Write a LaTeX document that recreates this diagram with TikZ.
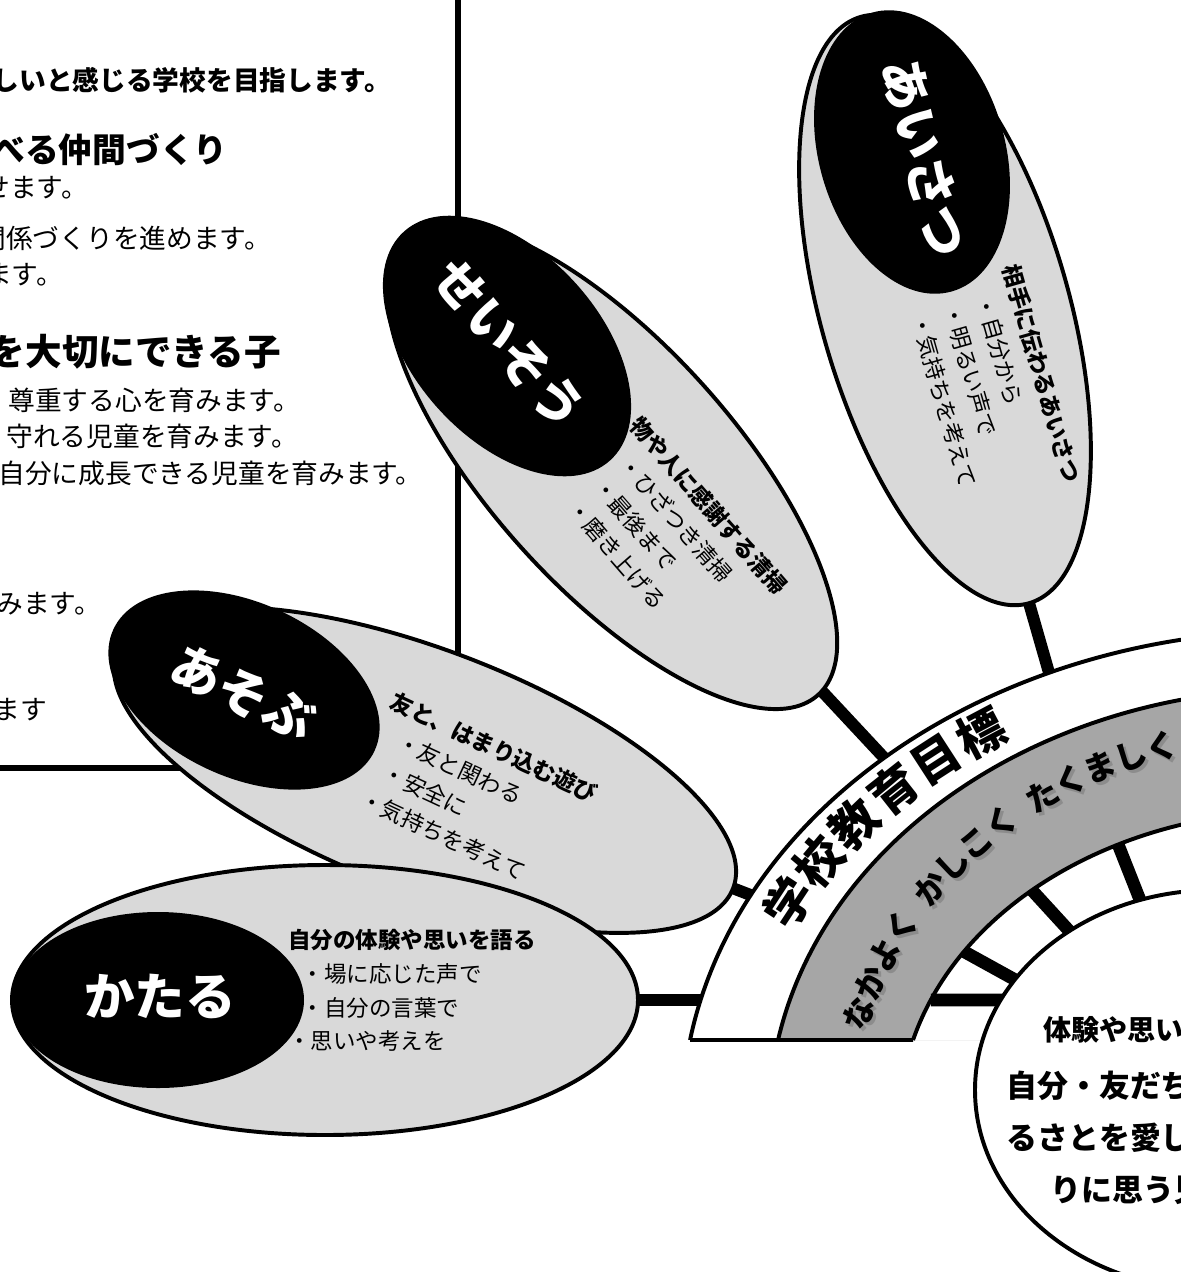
\documentclass[tikz,border=0pt]{standalone}
\usepackage{fontspec}
\setmainfont{Noto Sans CJK JP}
\usetikzlibrary{decorations.text}
\definecolor{bubblegray}{HTML}{D9D9D9}
\definecolor{bandgray}{HTML}{A6A6A6}
\begin{document}
\begin{tikzpicture}[x=0.025cm,y=-0.025cm]
\tikzset{frame/.style={line width=4.3pt},
         bubble/.style={draw,line width=2.8pt,fill=bubblegray},
         blob/.style={fill=black},
         link/.style={line width=8.5pt},
         ring/.style={line width=2.8pt},
         spoke/.style={line width=9pt},
         title/.style={text=white,inner sep=0pt,
                       font=\fontsize{36}{36}\selectfont\bfseries},
         memo/.style={align=left,inner sep=0pt,anchor=north west,
                      font=\fontsize{16}{24}\selectfont},
         body/.style={anchor=east,inner sep=0pt,
                      font=\fontsize{19}{20}\selectfont},
         head/.style={anchor=east,inner sep=0pt,
                      font=\fontsize{24}{26}\selectfont\bfseries},
         creed/.style={anchor=west,inner sep=0pt,
                       font=\fontsize{22}{24}\selectfont\bfseries},
         motto/.style={decorate,decoration={text along path,text align=center,raise=-8.5pt,
                       text={|\fontsize{23}{23}\selectfont\bfseries|#1}}},
         shade/.style={decorate,decoration={text along path,text align=center,raise=-8.5pt,
                       text={|\fontsize{23}{23}\selectfont\bfseries\color{black!45}|#1}}}
}
\fill[white] (0,0) rectangle (1180,1272);
\useasboundingbox (0,0) rectangle (1180,1272);
\draw[frame] (458,-20) -- (458,768) -- (-20,768);
\node[body,font=\fontsize{19}{20}\selectfont\bfseries] (aim) at (391,80) {しいと感じる学校を目指します。};
\node[head] (head-1) at (228,150) {べる仲間づくり};
\node[body] (line-1) at (88,188) {せます。};
\node[body] (line-2) at (271,238) {関係づくりを進めます。};
\node[body] (line-3) at (63,275) {ます。};
\node[head,font=\fontsize{26}{28}\selectfont\bfseries] (head-2) at (281,352) {を大切にできる子};
\node[body] (line-4) at (300,400) {尊重する心を育みます。};
\node[body] (line-5) at (298,436) {守れる児童を育みます。};
\node[body] (line-6) at (423,473) {自分に成長できる児童を育みます。};
\node[body] (line-7) at (101,604) {みます。};
\node[body] (line-8) at (47,710) {ます};
\coordinate (hub) at (1300,1120);
\coordinate (hub-shade) at (1303,1123);
\coordinate (core) at (1215,1090);
\coordinate (spoke-end) at (1020,1000);
\coordinate (aisatsu) at (945,310);
\coordinate (seisou) at (612,466);
\coordinate (asobu) at (425,770);
\coordinate (kataru) at (325,1000);
\coordinate (aisatsu-foot) at ([shift={(74:420)}]aisatsu);
\coordinate (seisou-foot) at ([shift={(47:450)}]seisou);
\coordinate (asobu-foot) at ([shift={(21:400)}]asobu);
\coordinate (kataru-foot) at ([shift={(0:420)}]kataru);
\draw[link] (aisatsu) -- (aisatsu-foot);
\draw[link] (seisou) -- (seisou-foot);
\draw[link] (asobu) -- (asobu-foot);
\draw[link] (kataru) -- (kataru-foot);
\draw[bubble] (aisatsu) ellipse[x radius=305,y radius=124,rotate=-74];
\fill[blob] (912,152) ellipse[x radius=145,y radius=93,rotate=-74];
\node[title,rotate=-76] (aisatsu-title) at (925,158) {あいさつ};
\node[memo,rotate=-74] (aisatsu-memo) at (1021,262) {\textbf{相手に伝わるあいさつ}\\\hspace*{1em}・自分から\\\hspace*{1em}・明るい声で\\\hspace*{1em}・気持ちを考えて};
\draw[bubble] (seisou) ellipse[x radius=308,y radius=122,rotate=-48];
\fill[blob] (507,346) ellipse[x radius=154,y radius=93,rotate=-48];
\node[title,rotate=-50] (seisou-title) at (509,344) {せいそう};
\node[memo,rotate=-49] (seisou-memo) at (643,413) {\textbf{物や人に感謝する清掃}\\\hspace*{1em}・ひざつき清掃\\\hspace*{1em}・最後まで\\\hspace*{1em}・磨き上げる};
\draw[bubble] (asobu) ellipse[x radius=330,y radius=120,rotate=-21];
\fill[blob] (244,690) ellipse[x radius=144,y radius=87,rotate=-25];
\node[title,rotate=-25] (asobu-title) at (243,693) {あそぶ};
\node[memo,rotate=-25] (asobu-memo) at (397,690) {\textbf{友と、はまり込む遊び}\\\hspace*{1em}・友と関わる\\\hspace*{1em}・安全に\\\hspace*{0.6em}・気持ちを考えて};
\draw[bubble] (kataru) ellipse[x radius=313,y radius=135];
\fill[blob] (158,1000) ellipse[x radius=146,y radius=88];
\node[title] (kataru-title) at (160,996) {かたる};
\node[memo] (kataru-memo) at (288,929) {\textbf{自分の体験や思いを語る}\\\hspace*{0.6em}・場に応じた声で\\\hspace*{0.6em}・自分の言葉で\\・思いや考えを};
\fill[white] ([shift={(189.41:618.3 and 489.3)}]hub) arc[start angle=189.41,end angle=350.59,x radius=618.3,y radius=489.3] -- cycle;
\fill[bandgray] ([shift={(190.69:531.2 and 431.1)}]hub) arc[start angle=190.69,end angle=349.31,x radius=531.2,y radius=431.1] -- cycle;
\fill[white] ([shift={(195:400.6 and 309.2)}]hub) arc[start angle=195,end angle=345,x radius=400.6,y radius=309.2] -- cycle;
\draw[spoke] ([shift={(202.83:400.6 and 309.2)}]hub) -- (spoke-end);
\draw[spoke] ([shift={(213:400.6 and 309.2)}]hub) -- (core);
\draw[spoke] ([shift={(228:400.6 and 309.2)}]hub) -- (core);
\draw[spoke] ([shift={(243:400.6 and 309.2)}]hub) -- (core);
\draw[ring] ([shift={(189.41:618.3 and 489.3)}]hub) arc[start angle=189.41,end angle=350.59,x radius=618.3,y radius=489.3];
\draw[ring] ([shift={(190.69:531.2 and 431.1)}]hub) arc[start angle=190.69,end angle=349.31,x radius=531.2,y radius=431.1];
\draw[ring] ([shift={(195:400.6 and 309.2)}]hub) arc[start angle=195,end angle=345,x radius=400.6,y radius=309.2];
\draw[ring] ([shift={(189.41:618.3 and 489.3)}]hub) -- ([shift={(195:400.6 and 309.2)}]hub);
\path[decorate,decoration={text along path,text align=fit to path,raise=-10pt,
      text={|\fontsize{34}{34}\selectfont\bfseries|学校教育目標}}]
  ([shift={(205:575 and 460)}]hub) arc[start angle=205,end angle=239,x radius=575,y radius=460];
\path[shade=なかよく] ([shift={(193.5:458 and 392)}]hub-shade) arc[start angle=193.5,end angle=211.8,x radius=458,y radius=392];
\path[shade=かしこく] ([shift={(214:458 and 392)}]hub-shade) arc[start angle=214,end angle=231.5,x radius=458,y radius=392];
\path[shade=たくましく] ([shift={(233.6:458 and 392)}]hub-shade) arc[start angle=233.6,end angle=254.5,x radius=458,y radius=392];
\path[motto=なかよく] ([shift={(193.5:458 and 392)}]hub) arc[start angle=193.5,end angle=211.8,x radius=458,y radius=392];
\path[motto=かしこく] ([shift={(214:458 and 392)}]hub) arc[start angle=214,end angle=231.5,x radius=458,y radius=392];
\path[motto=たくましく] ([shift={(233.6:458 and 392)}]hub) arc[start angle=233.6,end angle=254.5,x radius=458,y radius=392];
\draw[ring,fill=white] (core) ellipse[x radius=240,y radius=200];
\node[creed,font=\fontsize{20}{22}\selectfont\bfseries] (creed-1) at (1043,1030) {体験や思いを};
\node[creed] (creed-2) at (1006,1086) {自分・友だち};
\node[creed] (creed-3) at (1006,1138) {るさとを愛し};
\node[creed] (creed-4) at (1050,1190) {りに思う児};
\end{tikzpicture}
\end{document}
